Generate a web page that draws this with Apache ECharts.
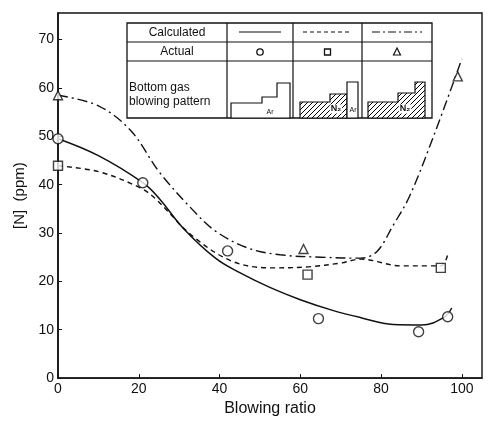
<!DOCTYPE html>
<html>
<head>
<meta charset="utf-8">
<script src="https://cdn.jsdelivr.net/npm/echarts@6/dist/echarts.min.js"></script>
<style>
  html, body { margin: 0; padding: 0; background: #fff; }
  #chart { width: 488px; height: 422px; }
</style>
</head>
<body>
<div id="chart"></div>
<script>
// measured points (actual)
const circleX = [0, 21, 42, 64.5, 89.3, 96.5]
const circleY = [49.5, 40.4, 26.3, 12.3, 9.6, 12.7]
const squareX = [0, 61.8, 94.8]
const squareY = [43.9, 21.4, 22.8]
const triangleX = [0, 60.8, 99]
const triangleY = [58.5, 26.7, 62.4]

// calculated curves
const solidX = [0, 10, 21, 25, 31, 39, 45, 52.6, 60, 68, 75, 83, 90, 95.5, 97.5]
const solidY = [49.5, 46, 40.4, 37.2, 31, 24.8, 21.8, 18.7, 16.2, 14, 12.5, 11.1, 11.0, 12.5, 14.5]
const dashX = [0, 10, 20, 24, 33, 43, 52.6, 62, 70, 75, 85, 94.8, 96.5]
const dashY = [43.9, 42.7, 39.5, 37.2, 29.6, 24.2, 22.8, 23.0, 23.8, 24.6, 23.2, 23.2, 25.5]
const dashDotX = [0, 10, 18, 25, 33, 39, 47, 55, 65, 75, 79, 83, 87, 93, 100]
const dashDotY = [58.5, 56.3, 51.2, 42.7, 35.1, 30.4, 26.9, 25.5, 25, 24.8, 26.2, 31.6, 37.5, 50, 66]

const xTicks = [0, 20, 40, 60, 80, 100]
const yTicks = [0, 10, 20, 30, 40, 50, 60, 70]

const pairs = (xs, ys) => xs.map((x, i) => [x, ys[i]])

// hatch pattern for N2 blocks
function hatch() {
  const c = document.createElement('canvas')
  c.width = 5
  c.height = 5
  const g = c.getContext('2d')
  g.fillStyle = '#fff'
  g.fillRect(0, 0, 5, 5)
  g.strokeStyle = '#000'
  g.lineWidth = 1
  g.beginPath()
  g.moveTo(0, 5); g.lineTo(5, 0)
  g.moveTo(-1, 1); g.lineTo(1, -1)
  g.moveTo(4, 6); g.lineTo(6, 4)
  g.stroke()
  return { image: c, repeat: 'repeat' }
}

const ink = '#111'
const font = '"Liberation Sans", "DejaVu Sans", sans-serif'
const chart = echarts.init(document.getElementById('chart'))

// legend table (drawn as graphics)
const tL = 127, c1 = 227, c2 = 293, c3 = 362, tR = 432
const tT = 23, r1 = 42, r2 = 61, tB = 118
const line = (x1, y1, x2, y2, extra) => ({
  type: 'line', shape: { x1, y1, x2, y2 },
  style: Object.assign({ stroke: ink, lineWidth: 1.2 }, extra || {}), z: 100
})
const txt = (x, y, text, size, align, bg) => ({
  type: 'text', x, y, z: 101,
  style: { text, fill: ink, font: (bg ? 'bold ' : '') + size + 'px ' + font, textAlign: align || 'center', textVerticalAlign: 'middle',
    backgroundColor: bg || 'transparent', padding: bg ? [0, 1] : 0 }
})
const poly = (points, fill) => ({
  type: 'polygon', shape: { points }, z: 100,
  style: { fill, stroke: ink, lineWidth: 1.2 }
})
const pat = hatch()

const graphic = [
  { type: 'rect', shape: { x: tL, y: tT, width: tR - tL, height: tB - tT }, z: 99,
    style: { fill: '#fff', stroke: ink, lineWidth: 1.3 } },
  line(tL, r1, tR, r1), line(tL, r2, tR, r2),
  line(c1, tT, c1, tB), line(c2, tT, c2, tB), line(c3, tT, c3, tB),
  txt((tL + c1) / 2, (tT + r1) / 2, 'Calculated', 12),
  txt((tL + c1) / 2, (r1 + r2) / 2, 'Actual', 12),
  txt(tL + 2, 88, 'Bottom gas', 12, 'left'),
  txt(tL + 2, 102, 'blowing pattern', 12, 'left'),
  line(c1 + 12, 32, c2 - 12, 32),
  line(c2 + 10, 32, c3 - 10, 32, { lineDash: [4, 3] }),
  line(c3 + 10, 32, tR - 10, 32, { lineDash: [8, 3, 2, 3] }),
  { type: 'circle', shape: { cx: (c1 + c2) / 2, cy: 52, r: 3.2 }, z: 101, style: { fill: '#fff', stroke: ink, lineWidth: 1.3 } },
  { type: 'rect', shape: { x: (c2 + c3) / 2 - 3, y: 49, width: 6, height: 6 }, z: 101, style: { fill: '#fff', stroke: ink, lineWidth: 1.3 } },
  poly([[(c3 + tR) / 2, 48], [(c3 + tR) / 2 + 3.5, 55], [(c3 + tR) / 2 - 3.5, 55]], '#fff'),
  // Ar only
  poly([[231, tB], [231, 103], [262, 103], [262, 97], [277, 97], [277, 83], [290, 83], [290, tB]], '#fff'),
  txt(270, 112, 'Ar', 7),
  // N2 then Ar
  poly([[300, tB], [300, 102], [330, 102], [330, 94], [347, 94], [347, tB]], pat),
  poly([[347, tB], [347, 82], [358, 82], [358, tB]], '#fff'),
  txt(336, 109, 'N₂', 9, 'center', '#fff'),
  txt(353, 110, 'Ar', 7),
  // N2 only
  poly([[368, tB], [368, 102], [398, 102], [398, 93], [415, 93], [415, 82], [425, 82], [425, tB]], pat),
  txt(405, 109, 'N₂', 9, 'center', '#fff')
]

const markStyle = { color: '#fff', borderColor: ink, borderWidth: 1.4 }

chart.setOption({
  backgroundColor: '#fff',
  animation: false,
  grid: { left: 58, right: 6, top: 13, bottom: 41, show: true, borderColor: ink, borderWidth: 1.4 },
  xAxis: {
    type: 'value', min: 0, max: 105, interval: 20,
    name: 'Blowing ratio', nameLocation: 'middle', nameGap: 22,
    nameTextStyle: { color: ink, fontSize: 16, fontFamily: font },
    axisLine: { lineStyle: { color: ink, width: 1.6 } },
    axisTick: { inside: true, length: 4, lineStyle: { color: ink } },
    axisLabel: { color: ink, fontSize: 14, fontFamily: font, margin: 4, showMaxLabel: false,
      formatter: v => xTicks.includes(v) ? String(v) : '' },
    splitLine: { show: false }
  },
  yAxis: {
    type: 'value', min: 0, max: 75.5, interval: 10,
    name: '[N]  (ppm)', nameLocation: 'middle', nameGap: 30, nameRotate: 90,
    nameTextStyle: { color: ink, fontSize: 15, fontFamily: font },
    axisLine: { lineStyle: { color: ink, width: 1.6 } },
    axisTick: { inside: true, length: 4, lineStyle: { color: ink } },
    axisLabel: { color: ink, fontSize: 14, fontFamily: font, margin: 4, showMaxLabel: false,
      formatter: v => yTicks.includes(v) ? String(v) : '' },
    splitLine: { show: false }
  },
  series: [
    { type: 'line', data: pairs(solidX, solidY), smooth: 0.4, showSymbol: false,
      lineStyle: { color: ink, width: 1.5 } },
    { type: 'line', data: pairs(dashX, dashY), smooth: 0.35, showSymbol: false,
      lineStyle: { color: ink, width: 1.4, type: [5, 4] } },
    { type: 'line', data: pairs(dashDotX, dashDotY), smooth: 0.35, showSymbol: false,
      lineStyle: { color: ink, width: 1.4, type: [10, 4, 2, 4] } },
    { type: 'scatter', data: pairs(circleX, circleY), symbol: 'circle', symbolSize: 10, itemStyle: markStyle, z: 5 },
    { type: 'scatter', data: pairs(squareX, squareY), symbol: 'rect', symbolSize: 9, itemStyle: markStyle, z: 5 },
    { type: 'scatter', data: pairs(triangleX, triangleY), symbol: 'triangle', symbolSize: 9, itemStyle: markStyle, z: 5 }
  ],
  graphic
})
</script>
</body>
</html>
